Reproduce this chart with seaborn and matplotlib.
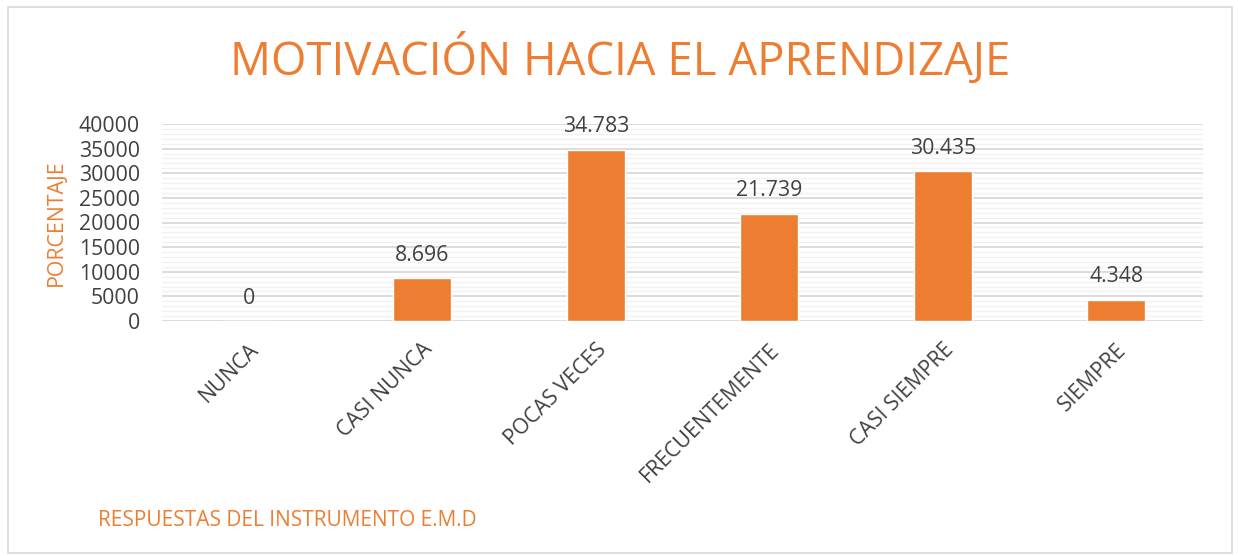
import matplotlib
matplotlib.use('Agg')
import matplotlib.pyplot as plt
import seaborn as sns
import pandas as pd
from matplotlib.patches import Rectangle
from matplotlib.ticker import MultipleLocator

CATEGORIAS = ['NUNCA', 'CASI NUNCA', 'POCAS VECES', 'FRECUENTEMENTE', 'CASI SIEMPRE', 'SIEMPRE']
VALORES = [0, 8696, 34783, 21739, 30435, 4348]
ETIQUETAS = ['0', '8.696', '34.783', '21.739', '30.435', '4.348']
Y_TICKS = [0, 5000, 10000, 15000, 20000, 25000, 30000, 35000, 40000]

NARANJA = '#ED7D31'
GRIS = '#404040'

sns.set_style('white')
plt.rcParams['font.family'] = ['Open Sans', 'DejaVu Sans']

df = pd.DataFrame({'cat': CATEGORIAS, 'val': VALORES})

fig = plt.figure(figsize=(12.38, 5.56), dpi=100)
ax = fig.add_axes([162 / 1238, 1 - 321 / 556, (1203 - 162) / 1238, (321 - 124) / 556])

sns.barplot(data=df, x='cat', y='val', color=NARANJA, width=0.335, saturation=1, ax=ax, zorder=3)

ax.set_ylim(0, 40000)
ax.set_yticks(Y_TICKS)
ax.yaxis.set_minor_locator(MultipleLocator(1000))
ax.grid(axis='y', which='major', color='#D9D9D9', lw=1.3, zorder=0)
ax.grid(axis='y', which='minor', color='#F2F2F2', lw=1.0, zorder=0)
ax.set_axisbelow(True)
for s in ax.spines.values():
    s.set_visible(False)
ax.tick_params(axis='both', length=0, labelsize=15.3, labelcolor=GRIS)
ax.tick_params(axis='y', pad=16)
ax.set_xlim(-0.5, len(CATEGORIAS) - 0.5)

plt.setp(ax.get_xticklabels(), rotation=45, ha='right', rotation_mode='anchor')
ax.tick_params(axis='x', pad=13)

ax.bar_label(ax.containers[0], labels=ETIQUETAS, padding=9, fontsize=15.3, color=GRIS)

ax.set_xlabel('')
ax.set_ylabel('PORCENTAJE', color=NARANJA, fontsize=15.3)
ax.yaxis.set_label_coords(-0.091, 0.5)

fig.text(620 / 1238, 1 - 60 / 556, 'MOTIVACIÓN HACIA EL APRENDIZAJE', color=NARANJA,
         fontsize=32.8, ha='center', va='center')
fig.text(98 / 1238, 1 - 520 / 556, 'RESPUESTAS DEL INSTRUMENTO E.M.D', color=NARANJA,
         fontsize=15, ha='left', va='center')

fig.patches.append(Rectangle((8 / 1238, 3 / 556), (1232 - 8) / 1238, (551 - 5) / 556,
                             transform=fig.transFigure, fill=False, edgecolor='#D9D9D9', lw=1.2))

fig.savefig('out.png', dpi=100)
